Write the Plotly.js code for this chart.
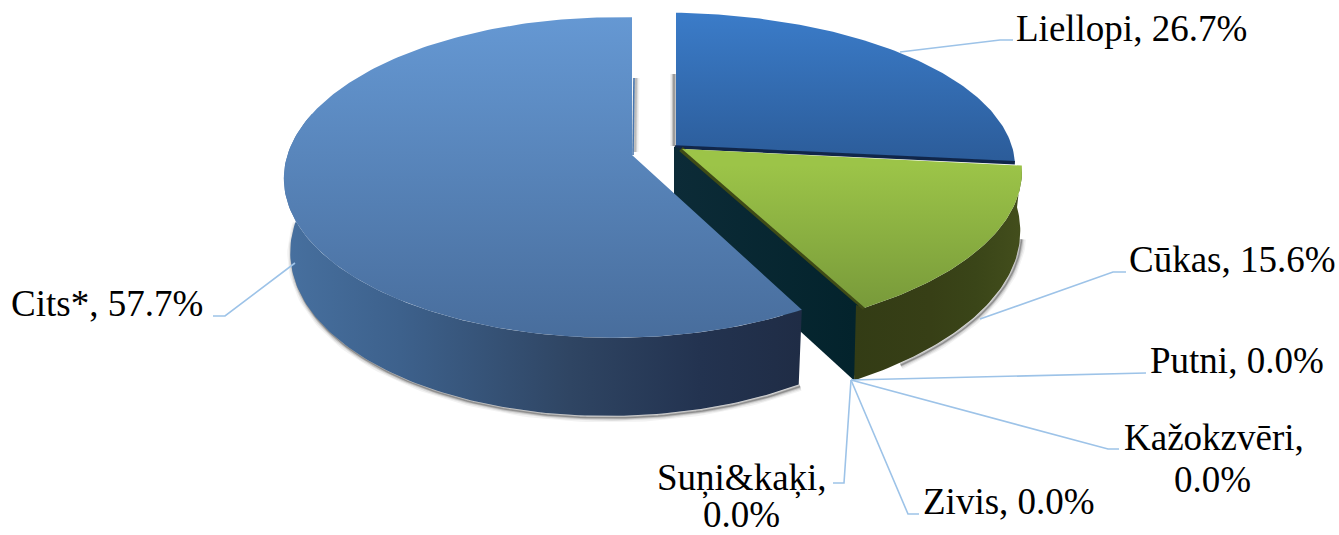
<!DOCTYPE html>
<html>
<head>
<meta charset="utf-8">
<script src="https://cdn.plot.ly/plotly-3.0.1.min.js"></script>
<style>html,body{margin:0;padding:0;background:#fff}#chart{width:1339px;height:535px}</style>
</head>
<body>
<div id="chart"></div>
<script>
// ---- data ----
const categories = ['Liellopi', 'Cūkas', 'Putni', 'Kažokzvēri', 'Zivis', 'Suņi&kaķi', 'Cits*'];
const shares = [26.7, 15.6, 0.0, 0.0, 0.0, 0.0, 57.7];
const colorsTop = [['#3b7cc9', '#2b5b98'], ['#9cc448', '#789a3a'], null, null, null, null, ['#6598d3', '#486d9c']];

// ---- view: perspective of the tilted disc ----
const tiltK = 0.14, yawJ = 0.048;
const faces = {
  0: {cx: 676, cy: 146, A: 352, B: 152, drop: 0},
  1: {cx: 682, cy: 149, A: 353, B: 161, drop: 0},
  6: {cx: 632, cy: 155, A: 328, B: 157, drop: 0}
};
const floors = {
  1: {cx: 661, cy: 207, A: 373, B: 176, drop: 0},
  6: {cx: 632, cy: 155, A: 322, B: 155, drop: 69}
};
function proj(p, deg) {
  const t = deg * Math.PI / 180, X = Math.sin(t), Y = Math.cos(t), w = 1 + tiltK * Y + yawJ * X;
  return [p.cx + p.A * X / w, p.cy + (-p.B * Y + p.drop) / w];
}
function arc(p, a, b) {
  const n = Math.max(2, Math.ceil(Math.abs(b - a))), out = [];
  for (let i = 0; i <= n; i++) out.push(proj(p, a + (b - a) * i / n));
  return out;
}
const total = shares.reduce((s, v) => s + v, 0);
let run = 0;
const starts = [], ends = [];
shares.forEach(v => { starts.push(run / total * 360); run += v; ends.push(run / total * 360); });

function poly(pts, grad, extra) {
  const tr = {type: 'scatter', mode: 'lines', x: pts.map(q => q[0]), y: pts.map(q => q[1]),
    fill: 'toself', line: {width: 0}, hoverinfo: 'skip', showlegend: false};
  if (typeof grad === 'string') tr.fillcolor = grad; else tr.fillgradient = grad;
  return Object.assign(tr, extra || {});
}
function line(pts, color, width, extra) {
  return Object.assign({type: 'scatter', mode: 'lines', x: pts.map(q => q[0]), y: pts.map(q => q[1]),
    line: {color: color, width: width}, hoverinfo: 'skip', showlegend: false}, extra || {});
}
function vgrad(c, y0, y1) { return {type: 'vertical', start: y0, stop: y1, colorscale: [[0, c[0]], [1, c[1]]]}; }
function hgrad(stops, x0, x1) {
  return {type: 'horizontal', start: x0, stop: x1, colorscale: stops.map(s => [(s[0] - x0) / (x1 - x0), s[1]])};
}
const shadow = (pts, dx, dy) => [[9, .05], [6, .08], [3.5, .14], [1.5, .25]].map(s =>
  line(pts.map(q => [q[0] + dx, q[1] + dy]), 'rgba(0,0,0,' + s[1] + ')', s[0]));

const traces = [];
// soft shadows behind the exploded slices
[[7, .06], [4, .1], [2, .12]].forEach(s => {
  traces.push(line([[636, 78], [635, 152]], 'rgba(0,0,0,' + s[1] + ')', s[0]));
  traces.push(line([[674, 74], [674, 146]], 'rgba(0,0,0,' + s[1] * 1.6 + ')', s[0]));
});

// Liellopi
const L = faces[0];
traces.push(poly([[L.cx, L.cy]].concat(arc(L, starts[0], ends[0])), vgrad(colorsTop[0], 12, 165)));
traces.push(line([[L.cx - 1, L.cy + 1], [proj(L, ends[0])[0], proj(L, ends[0])[1] + 1]], '#10264a', 3.5));

// Cūkas: cut wall, outer wall, top
const C = faces[1], CF = floors[1];
const cTip = proj(C, ends[1]), cFloorTip = proj(CF, ends[1]);
traces.push(poly([[674, 146.5], [C.cx, C.cy], cTip, cFloorTip, [674, 216]],
  hgrad([[674, '#0c2b37'], [856, '#03232c']], 674, 856)));
const cTop = arc(C, starts[1], ends[1]);
const cFloor = arc(CF, ends[1], starts[1] - 6);
const cWall = cFloor.concat(cTop).concat([[856, 305]]);
traces.push.apply(traces, shadow(arc(CF, ends[1] - 8, starts[1] + 4), 1.5, 2));
traces.push(poly(cWall, hgrad([[852, '#333c15'], [930, '#373f16'], [975, '#3a4518'], [1022, '#434e1c']], 852, 1022)));
traces.push(line([[C.cx - 1, C.cy], cTip], '#3f4b16', 5.5));
traces.push(poly([proj(C, starts[1])].concat(cTop).concat([[C.cx, C.cy]]), vgrad(colorsTop[1], 165, 308)));

// Cits*: outer wall, top
const S = faces[6], SF = floors[6];
const sFloor = arc(SF, ends[5], 285);
traces.push.apply(traces, shadow(arc(SF, ends[5], 272), 1.5, 2));
traces.push(poly(arc(S, ends[5], 285).concat(sFloor.slice().reverse()),
  hgrad([[285, '#47709f'], [400, '#3d618c'], [570, '#2f4563'], [700, '#233350'], [803, '#1f2c45']], 285, 803)));
traces.push(poly([[S.cx, S.cy]].concat(arc(S, ends[5], ends[6])), vgrad(colorsTop[6], 17, 340)));
traces.push(line([[634, 78], [633, 155]], '#4a77ad', 1.6));

// leader lines
const leaderColor = '#9dc3e8';
const hub = [851, 380];
const leaders = [
  [[900, 52], [1000, 40], [1013, 40]],
  [[980, 319], [1113, 272], [1126, 272]],
  [hub, [1131, 373], [1146, 373]],
  [hub, [1108, 449], [1119, 449]],
  [hub, [908, 514], [919, 514]],
  [hub, [844, 483], [833, 483]],
  [[295, 263], [225, 316], [213, 316]]
];
leaders.forEach(l => traces.push(line(l, leaderColor, 1.6)));

// labels
const fmt = i => categories[i] + ', ' + shares[i].toFixed(1) + '%';
const pct = i => shares[i].toFixed(1) + '%';
const labelFont = {family: '"Liberation Serif","Times New Roman",serif', size: 37, color: '#000'};
const note = (text, x, base, anchor) => ({text: text, x: x, y: base - 12.5, xref: 'x', yref: 'y', xanchor: anchor || 'left',
  yanchor: 'middle', showarrow: false, font: labelFont, borderpad: 0});
const annotations = [
  note(fmt(0), 1015, 41),
  note(fmt(1), 1128, 272),
  note(fmt(2), 1149, 373),
  note(categories[3] + ',', 1123, 450),
  note(pct(3), 1212, 492, 'center'),
  note(fmt(4), 922, 514),
  note(categories[5] + ',', 656, 490),
  note(pct(5), 741, 527, 'center'),
  note(fmt(6), 10, 316)
];

Plotly.newPlot('chart', traces, {
  width: 1339, height: 535, margin: {l: 0, r: 0, t: 0, b: 0, pad: 0},
  paper_bgcolor: '#fff', plot_bgcolor: '#fff', showlegend: false,
  xaxis: {range: [0, 1339], visible: false, fixedrange: true},
  yaxis: {range: [535, 0], visible: false, fixedrange: true},
  annotations: annotations
}, {displayModeBar: false, staticPlot: true});
</script>
</body>
</html>
